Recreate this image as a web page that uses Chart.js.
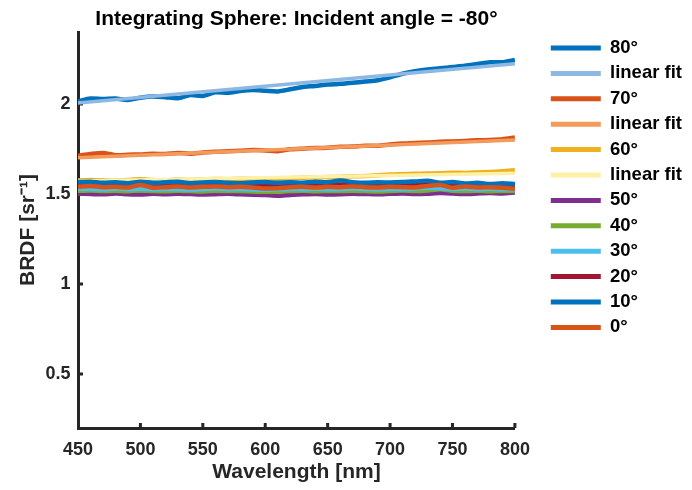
<!DOCTYPE html>
<html>
<head>
<meta charset="utf-8">
<script src="https://cdn.jsdelivr.net/npm/chart.js@4"></script>
<style>
  html, body { margin: 0; padding: 0; background: #fff; }
  #wrap { width: 692px; height: 490px; }
</style>
</head>
<body>
<div id="wrap"><canvas id="brdfChart"></canvas></div>
<script>
"use strict";

// wavelength grid [nm]
const wavelengths = [450, 460, 470, 480, 490, 500, 510, 520, 530, 540, 550, 560,
  570, 580, 590, 600, 610, 620, 630, 640, 650, 660, 670, 680, 690, 700, 710, 720,
  730, 740, 750, 760, 770, 780, 790, 800];

// BRDF per viewing angle [sr^-1]
const brdf80 = [2.015, 2.03, 2.028, 2.03, 2.022, 2.035, 2.042, 2.038, 2.032, 2.05, 2.045, 2.065,
  2.062, 2.072, 2.078, 2.074, 2.07, 2.082, 2.095, 2.1, 2.108, 2.112, 2.118, 2.125, 2.132, 2.148,
  2.168, 2.182, 2.192, 2.198, 2.205, 2.212, 2.222, 2.232, 2.232, 2.245];
const brdf70 = [1.712, 1.722, 1.728, 1.716, 1.718, 1.72, 1.723, 1.722, 1.728, 1.724, 1.73, 1.735,
  1.737, 1.74, 1.744, 1.742, 1.738, 1.748, 1.752, 1.755, 1.757, 1.762, 1.764, 1.768, 1.768, 1.775,
  1.78, 1.784, 1.786, 1.79, 1.792, 1.795, 1.798, 1.8, 1.804, 1.814];
const brdf60 = [1.575, 1.578, 1.576, 1.574, 1.578, 1.582, 1.578, 1.576, 1.58, 1.578, 1.582, 1.584,
  1.582, 1.585, 1.584, 1.586, 1.585, 1.588, 1.59, 1.592, 1.594, 1.595, 1.598, 1.6, 1.604, 1.608,
  1.61, 1.612, 1.614, 1.615, 1.618, 1.617, 1.62, 1.622, 1.626, 1.632];
const brdf50 = [1.502, 1.5, 1.498, 1.503, 1.499, 1.497, 1.501, 1.498, 1.502, 1.5, 1.497, 1.499,
  1.501, 1.498, 1.496, 1.494, 1.49, 1.495, 1.498, 1.5, 1.497, 1.499, 1.502, 1.5, 1.498, 1.501,
  1.503, 1.5, 1.502, 1.505, 1.503, 1.5, 1.503, 1.506, 1.503, 1.508];
const brdf40 = [1.518, 1.52, 1.516, 1.518, 1.515, 1.52, 1.517, 1.515, 1.518, 1.516, 1.514, 1.518,
  1.516, 1.517, 1.514, 1.512, 1.513, 1.516, 1.518, 1.515, 1.517, 1.516, 1.518, 1.516, 1.514, 1.517,
  1.519, 1.517, 1.52, 1.526, 1.518, 1.516, 1.518, 1.515, 1.517, 1.516];
const brdf30 = [1.53, 1.528, 1.526, 1.53, 1.527, 1.529, 1.526, 1.528, 1.527, 1.525, 1.528, 1.53,
  1.527, 1.528, 1.525, 1.524, 1.526, 1.528, 1.527, 1.529, 1.527, 1.528, 1.53, 1.528, 1.526, 1.528,
  1.527, 1.529, 1.535, 1.532, 1.528, 1.53, 1.527, 1.529, 1.526, 1.527];
const brdf20 = [1.552, 1.55, 1.548, 1.551, 1.547, 1.552, 1.549, 1.55, 1.552, 1.548, 1.55, 1.551,
  1.549, 1.55, 1.548, 1.546, 1.548, 1.55, 1.551, 1.549, 1.55, 1.552, 1.55, 1.548, 1.55, 1.549,
  1.551, 1.55, 1.553, 1.552, 1.55, 1.548, 1.55, 1.547, 1.549, 1.546];
const brdf10 = [1.566, 1.568, 1.562, 1.565, 1.56, 1.568, 1.562, 1.565, 1.568, 1.56, 1.564, 1.566,
  1.562, 1.56, 1.564, 1.566, 1.562, 1.565, 1.563, 1.568, 1.566, 1.575, 1.566, 1.562, 1.565, 1.564,
  1.566, 1.57, 1.574, 1.562, 1.566, 1.558, 1.562, 1.555, 1.56, 1.555];
const brdf0 = [1.54, 1.545, 1.538, 1.54, 1.536, 1.55, 1.535, 1.538, 1.542, 1.536, 1.54, 1.542,
  1.538, 1.54, 1.536, 1.53, 1.532, 1.538, 1.54, 1.536, 1.54, 1.538, 1.542, 1.538, 1.536, 1.54,
  1.538, 1.536, 1.545, 1.55, 1.535, 1.542, 1.536, 1.538, 1.535, 1.528];

// linear fits, end points only
const fitX = [450, 800];
const fit80 = [2.005, 2.224];
const fit70 = [1.702, 1.8];
const fit60 = [1.572, 1.615];

const xTicks = [450, 500, 550, 600, 650, 700, 750, 800];
const yTicks = [0.5, 1, 1.5, 2];

const axisColor = "#262626";
const fontFamily = "Arial, 'Liberation Sans', Helvetica, sans-serif";
const legendGap = 29; // blank space between axes and legend

function pts(xs, ys) {
  return xs.map((x, i) => ({ x: x, y: ys[i] }));
}
function meas(label, ys, color) {
  return { label: label, data: pts(wavelengths, ys), borderColor: color, backgroundColor: color,
    borderWidth: 4.5, tension: 0.25 };
}
function fit(ys, color) {
  return { label: "linear fit", data: pts(fitX, ys), borderColor: color, backgroundColor: color,
    borderWidth: 3.5 };
}

// listed last-plotted first: chart.js puts dataset 0 on top, legend is reversed
const datasets = [
  meas("0°", brdf0, "#D95319"),
  meas("10°", brdf10, "#0072BD"),
  meas("20°", brdf20, "#A2142F"),
  meas("30°", brdf30, "#4DBEEE"),
  meas("40°", brdf40, "#77AC30"),
  meas("50°", brdf50, "#7E2F8E"),
  fit(fit60, "#FDF0A8"),
  meas("60°", brdf60, "#EDB120"),
  fit(fit70, "#F39B5C"),
  meas("70°", brdf70, "#D95319"),
  fit(fit80, "#8DB8E2"),
  meas("80°", brdf80, "#0072BD"),
];

// matlab-style ticks pointing into the axes
const innerTicks = {
  id: "innerTicks",
  beforeDatasetsDraw(chart) {
    const { ctx, chartArea, scales } = chart;
    ctx.save();
    ctx.strokeStyle = axisColor;
    ctx.lineWidth = 3;
    xTicks.slice(1).forEach((v) => {
      const px = scales.x.getPixelForValue(v);
      ctx.beginPath();
      ctx.moveTo(px, chartArea.bottom);
      ctx.lineTo(px, chartArea.bottom - 5);
      ctx.stroke();
    });
    yTicks.forEach((v) => {
      const py = scales.y.getPixelForValue(v);
      ctx.beginPath();
      ctx.moveTo(chartArea.left, py);
      ctx.lineTo(chartArea.left + 5, py);
      ctx.stroke();
    });
    ctx.restore();
  },
};

// widen the legend box, then move its items back to the right
const legendGutter = {
  id: "legendGutter",
  beforeLayout(chart) {
    const lg = chart.legend;
    if (lg && !lg._gapWrapped) {
      const fit0 = lg.fit.bind(lg);
      lg.fit = function () {
        fit0();
        this.width += legendGap;
      };
      lg._gapWrapped = true;
    }
  },
  afterLayout(chart) {
    if (chart.legend) chart.legend.left += legendGap;
  },
};

Chart.defaults.font.family = fontFamily;
Chart.defaults.font.weight = "bold";
Chart.defaults.color = axisColor;

const config = {
  type: "line",
  data: { datasets: datasets },
  options: {
    responsive: true,
    maintainAspectRatio: false,
    animation: false,
    layout: { padding: { left: 8, right: 0, top: 0, bottom: 2 } },
    elements: { point: { radius: 0 } },
    plugins: {
      tooltip: { enabled: false },
      title: {
        display: true,
        text: "Integrating Sphere: Incident angle = -80°",
        color: "#000",
        fullSize: false,
        font: { size: 21, weight: "bold" },
        padding: { top: 6.8, bottom: 0 },
      },
      legend: {
        position: "right",
        align: "start",
        reverse: true,
        title: { display: true, text: " ", font: { size: 10 }, padding: { top: 19.85, bottom: 0 } },
        labels: {
          color: "#000",
          boxWidth: 50,
          boxHeight: 5,
          padding: 6.9,
          font: { size: 18.5, weight: "bold" },
          generateLabels(chart) {
            const items = Chart.defaults.plugins.legend.labels.generateLabels(chart);
            return items.map((it) => Object.assign(it, { lineWidth: 0, fillStyle: it.strokeStyle }));
          },
        },
      },
    },
    scales: {
      x: {
        type: "linear",
        min: 450,
        max: 800,
        grid: { display: false, drawTicks: false },
        border: { display: true, color: axisColor, width: 3 },
        afterBuildTicks: (s) => { s.ticks = xTicks.map((v) => ({ value: v })); },
        afterFit: (s) => { s.height = 60; },
        ticks: { padding: 11.2, font: { size: 18, weight: "bold" }, color: axisColor,
          maxRotation: 0, callback: (v) => String(v) },
        title: { display: true, text: "Wavelength [nm]", color: axisColor,
          font: { size: 21, weight: "bold" }, padding: { top: 0, bottom: 3 } },
      },
      y: {
        min: 0.2,
        max: 2.4,
        grid: { display: false, drawTicks: false },
        border: { display: true, color: axisColor, width: 3 },
        afterBuildTicks: (s) => { s.ticks = yTicks.map((v) => ({ value: v })); },
        afterFit: (s) => { s.width = 70; },
        ticks: { padding: 7.5, font: { size: 18, weight: "bold" }, color: axisColor,
          callback: (v) => String(v) },
        title: { display: true, text: "BRDF [sr⁻¹]", color: axisColor,
          font: { size: 21, weight: "bold" }, padding: { top: 7.9, bottom: 0 } },
      },
    },
  },
  plugins: [innerTicks, legendGutter],
};

const brdfChart = new Chart(document.getElementById("brdfChart"), config);
</script>
</body>
</html>
